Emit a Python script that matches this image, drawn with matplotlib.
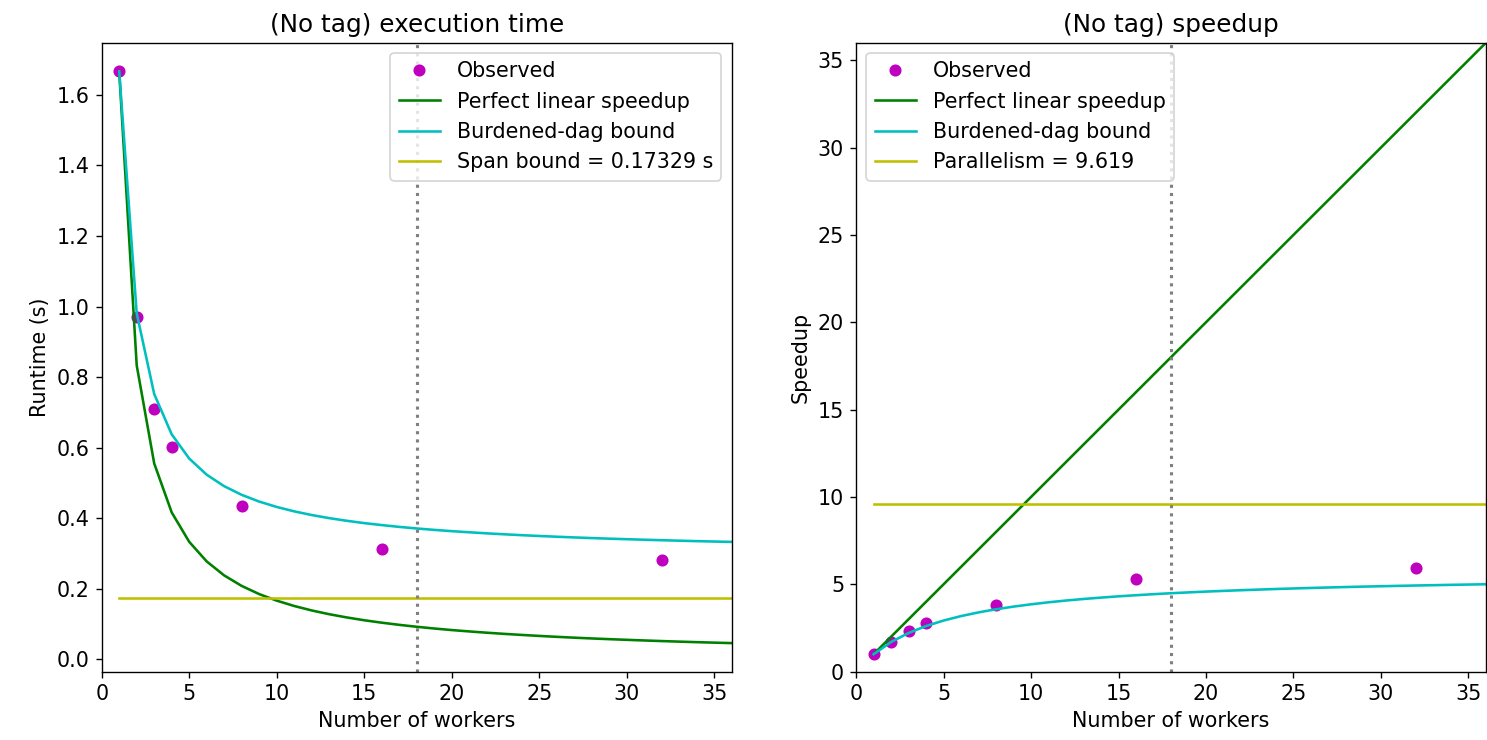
import matplotlib
matplotlib.use("Agg")
import matplotlib.pyplot as plt

# ---- data ----
workers = list(range(1, 37))
obs_workers = [1, 2, 3, 4, 8, 16, 32]
obs_runtime = [1.6669, 0.970, 0.710, 0.603, 0.435, 0.313, 0.282]
obs_speedup = [1.000, 1.718, 2.348, 2.764, 3.832, 5.325, 5.911]

linear_runtime = [1.6669, 0.8335, 0.5556, 0.4167, 0.3334, 0.2778, 0.2381, 0.2084,
                  0.1852, 0.1667, 0.1515, 0.1389, 0.1282, 0.1191, 0.1111, 0.1042,
                  0.0981, 0.0926, 0.0877, 0.0833, 0.0794, 0.0758, 0.0725, 0.0695,
                  0.0667, 0.0641, 0.0617, 0.0595, 0.0575, 0.0556, 0.0538, 0.0521,
                  0.0505, 0.0490, 0.0476, 0.0463]
burdened_runtime = [1.6669, 0.9810, 0.7523, 0.6380, 0.5694, 0.5236, 0.4910, 0.4665,
                    0.4474, 0.4322, 0.4197, 0.4093, 0.4005, 0.3930, 0.3864, 0.3808,
                    0.3757, 0.3712, 0.3672, 0.3636, 0.3604, 0.3574, 0.3547, 0.3522,
                    0.3499, 0.3478, 0.3458, 0.3440, 0.3423, 0.3408, 0.3393, 0.3379,
                    0.3366, 0.3353, 0.3342, 0.3331]
linear_speedup = [float(p) for p in workers]
burdened_speedup = [1.000, 1.699, 2.216, 2.613, 2.927, 3.183, 3.395, 3.573,
                    3.726, 3.857, 3.972, 4.073, 4.162, 4.241, 4.314, 4.377,
                    4.437, 4.491, 4.539, 4.585, 4.625, 4.664, 4.699, 4.733,
                    4.764, 4.793, 4.820, 4.846, 4.870, 4.891, 4.913, 4.933,
                    4.952, 4.971, 4.988, 5.004]
span_bound = 0.17329
parallelism = 9.619
num_cores = 18
xmax = 36

plt.rcParams['font.size'] = 12

fig = plt.figure(figsize=(1487 / 124, 740 / 124), dpi=124)
ax1 = fig.add_axes([0.0684, 0.0923, 0.4236, 0.850])
ax2 = fig.add_axes([0.5757, 0.0923, 0.4236, 0.850])

# left: runtime
ax1.plot(obs_workers, obs_runtime, 'mo', label='Observed')
ax1.plot(workers, linear_runtime, 'g', label='Perfect linear speedup')
ax1.plot(workers, burdened_runtime, 'c', label='Burdened-dag bound')
ax1.plot([workers[0], workers[-1]], [span_bound, span_bound], 'y',
         label='Span bound = %.5f s' % span_bound)
ax1.axvline(num_cores, color='gray', linestyle=':', lw=1.8)
ax1.set_xlim(0, xmax)
ax1.set_xlabel('Number of workers')
ax1.set_ylabel('Runtime (s)')
ax1.set_title('(No tag) execution time')
ax1.legend(loc='upper right')

# right: speedup
ax2.plot(obs_workers, obs_speedup, 'mo', label='Observed')
ax2.plot(workers, linear_speedup, 'g', label='Perfect linear speedup')
ax2.plot(workers, burdened_speedup, 'c', label='Burdened-dag bound')
ax2.plot([workers[0], workers[-1]], [parallelism, parallelism], 'y',
         label='Parallelism = %.3f' % parallelism)
ax2.axvline(num_cores, color='gray', linestyle=':', lw=1.8)
ax2.set_xlim(0, xmax)
ax2.set_ylim(0, xmax)
ax2.set_xlabel('Number of workers')
ax2.set_ylabel('Speedup')
ax2.set_title('(No tag) speedup')
ax2.legend(loc='upper left')

fig.savefig('out.png', dpi=124)
